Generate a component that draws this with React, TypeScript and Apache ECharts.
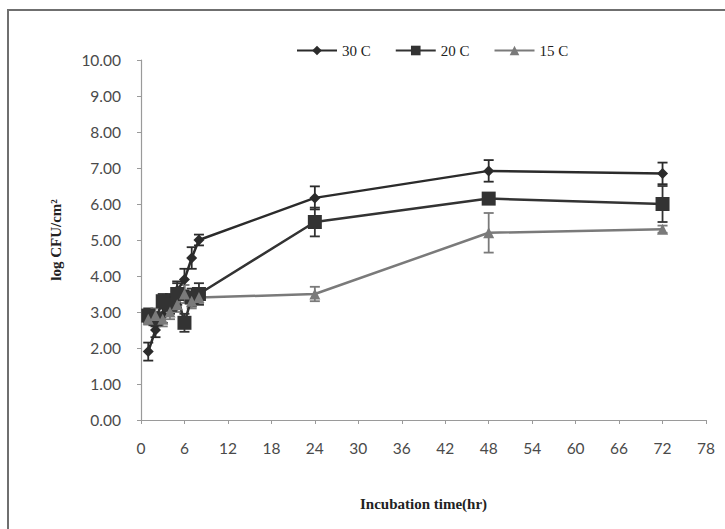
import React, { useEffect, useRef } from "react";
import * as echarts from "echarts";

const times = [1, 2, 3, 4, 5, 6, 7, 8, 24, 48, 72];
const seriesNames = ["30 C", "20 C", "15 C"];
const c30 = [1.9, 2.5, 2.9, 3.3, 3.6, 3.9, 4.5, 5.0, 6.17, 6.92, 6.85];
const c30Err = [0.25, 0.2, 0.2, 0.2, 0.25, 0.3, 0.3, 0.15, 0.32, 0.3, 0.3];
const c20 = [2.9, 2.8, 3.3, 3.2, 3.5, 2.7, 3.4, 3.5, 5.5, 6.15, 6.0];
const c20Err = [0.2, 0.2, 0.2, 0.25, 0.3, 0.25, 0.25, 0.3, 0.4, 0.1, 0.5];
const c15 = [2.8, 2.9, 2.8, 3.0, 3.2, 3.5, 3.3, 3.4, 3.5, 5.2, 5.3];
const c15Err = [0.15, 0.2, 0.2, 0.2, 0.2, 0.25, 0.2, 0.15, 0.2, 0.55, 0.1];
const xTicks = [0, 6, 12, 18, 24, 30, 36, 42, 48, 54, 60, 66, 72, 78];

const colors = ["#2b2b2b", "#333333", "#7a7a7a"];
const symbols = ["diamond", "rect", "triangle"];
const symbolSizes = [11, 14, 11];

function errSeries(vals: number[], errs: number[], color: string) {
  return {
    type: "custom",
    silent: true,
    z: 1,
    data: times.map((t, i) => [t, vals[i] - errs[i], vals[i] + errs[i]]),
    renderItem: (_p: any, api: any) => {
      const lo = api.coord([api.value(0), api.value(1)]);
      const hi = api.coord([api.value(0), api.value(2)]);
      const w = 5;
      const st = { stroke: color, lineWidth: 1.8 };
      return {
        type: "group",
        children: [
          { type: "line", shape: { x1: lo[0], y1: lo[1], x2: hi[0], y2: hi[1] }, style: st },
          { type: "line", shape: { x1: lo[0] - w, y1: lo[1], x2: lo[0] + w, y2: lo[1] }, style: st },
          { type: "line", shape: { x1: hi[0] - w, y1: hi[1], x2: hi[0] + w, y2: hi[1] }, style: st },
        ],
      };
    },
  };
}

export default function App() {
  const ref = useRef<HTMLDivElement>(null);
  useEffect(() => {
    if (!ref.current) return;
    const chart = echarts.init(ref.current, undefined, { renderer: "svg" });
    const all = [c30, c20, c15];
    const lineSeries = all.map((vals, i) => ({
      name: seriesNames[i],
      type: "line",
      z: 3,
      data: times.map((t, j) => [t, vals[j]]),
      symbol: symbols[i],
      symbolSize: symbolSizes[i],
      lineStyle: { color: colors[i], width: 2.5 },
      itemStyle: { color: colors[i] },
    }));
    chart.setOption({
      animation: false,
      backgroundColor: "#ffffff",
      grid: { left: 141, right: 19, top: 60, bottom: 109 },
      legend: {
        left: 291,
        top: 38,
        itemWidth: 40,
        itemHeight: 12,
        itemGap: 24,
        data: seriesNames,
        textStyle: { fontFamily: "Liberation Serif", fontSize: 15, color: "#222" },
      },
      xAxis: {
        type: "value",
        min: 0,
        max: 78,
        interval: 6,
        name: "Incubation time(hr)",
        nameLocation: "middle",
        nameGap: 76,
        nameTextStyle: { fontFamily: "Liberation Serif", fontWeight: "bold", fontSize: 15, color: "#222" },
        axisLine: { lineStyle: { color: "#9a9a9a", width: 1.2 } },
        axisTick: { show: true, length: 4, lineStyle: { color: "#9a9a9a" } },
        axisLabel: {
          margin: 20,
          fontFamily: "Lato",
          fontSize: 15.5,
          color: "#4a4a4a",
          formatter: (v: number) => (xTicks.includes(v) ? String(v) : ""),
        },
        splitLine: { show: false },
      },
      yAxis: {
        type: "value",
        min: 0,
        max: 10,
        interval: 1,
        name: "log CFU/cm²",
        nameLocation: "middle",
        nameGap: 78,
        nameTextStyle: { fontFamily: "Liberation Serif", fontWeight: "bold", fontSize: 15, color: "#222" },
        axisLine: { show: true, lineStyle: { color: "#9a9a9a", width: 1.2 } },
        axisTick: { show: true, length: 4, lineStyle: { color: "#9a9a9a" } },
        axisLabel: {
          margin: 20,
          fontFamily: "Lato",
          fontSize: 15.5,
          color: "#4a4a4a",
          formatter: (v: number) => v.toFixed(2),
        },
        splitLine: { show: false },
      },
      graphic: [
        {
          type: "rect",
          shape: { x: 8, y: 10, width: 740, height: 540 },
          style: { fill: "none", stroke: "#6f6f6f", lineWidth: 2 },
          silent: true,
        },
      ],
      series: [
        errSeries(c30, c30Err, colors[0]),
        errSeries(c20, c20Err, colors[1]),
        errSeries(c15, c15Err, colors[2]),
        ...lineSeries,
      ],
    });
    return () => chart.dispose();
  }, []);
  return <div ref={ref} style={{ width: 725, height: 529, position: "absolute", left: 0, top: 0 }} />;
}
